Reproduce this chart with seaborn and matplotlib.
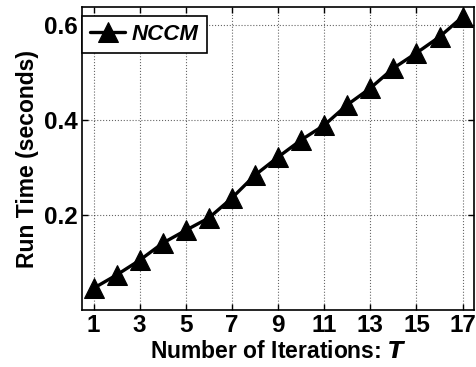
import matplotlib
matplotlib.use("Agg")
import matplotlib.pyplot as plt
import seaborn as sns
import pandas as pd

iterations = list(range(1, 18))
run_time = [0.046, 0.074, 0.105, 0.141, 0.168, 0.194, 0.236, 0.284, 0.322,
            0.358, 0.389, 0.432, 0.467, 0.509, 0.541, 0.575, 0.617]
series_name = "NCCM"
x_ticks = [1, 3, 5, 7, 9, 11, 13, 15, 17]
y_ticks = [0.2, 0.4, 0.6]

sns.set_style("ticks")
plt.rcParams['font.family'] = ['Liberation Sans', 'DejaVu Sans']
plt.rcParams['font.weight'] = 'bold'
plt.rcParams['text.color'] = 'black'
plt.rcParams['axes.labelcolor'] = 'black'
plt.rcParams['xtick.color'] = 'black'
plt.rcParams['ytick.color'] = 'black'

df = pd.DataFrame({"T": iterations, "time": run_time, "method": series_name})

fig = plt.figure(figsize=(4.77, 3.67), dpi=100)
ax = fig.add_axes([0.172, 0.155, 0.822, 0.825])

sns.lineplot(data=df, x="T", y="time", ax=ax, color="black", linewidth=2.4,
             marker="^", markersize=14, markeredgecolor="black",
             markerfacecolor="black", label=series_name)

ax.set_xlim(0.5, 17.5)
ax.set_ylim(0.0, 0.637)
ax.set_xticks(x_ticks)
ax.set_yticks(y_ticks)
ax.set_xticklabels([str(t) for t in x_ticks], fontsize=17.5, fontweight='bold')
ax.set_yticklabels([f"{v:.1f}" for v in y_ticks], fontsize=17.5, fontweight='bold')
ax.tick_params(direction='in', top=True, right=True, length=4, width=1, pad=3,
               colors='black')
for s in ax.spines.values():
    s.set_visible(True)
    s.set_color('black')
    s.set_linewidth(1.2)

ax.grid(True, linestyle=':', color='black', linewidth=0.8, alpha=0.6)

ax.set_xlabel("Number of Iterations: $\\boldsymbol{T}$", fontsize=16.5, fontweight='bold',
              labelpad=2, color='black')
ax.set_ylabel("Run Time (seconds)", fontsize=16.5, fontweight='bold', labelpad=4,
              color='black')

leg = ax.legend(loc='upper left', bbox_to_anchor=(0.0, 0.97), borderaxespad=0,
                frameon=True, fancybox=False, handlelength=1.6, handletextpad=0.3,
                borderpad=0.35,
                prop={'size': 16, 'weight': 'bold', 'style': 'italic'})
leg.get_frame().set_edgecolor('black')
leg.get_frame().set_linewidth(1.2)
leg.get_frame().set_alpha(1)
for t in leg.get_texts():
    t.set_color('black')

fig.savefig("out.png", dpi=100)
